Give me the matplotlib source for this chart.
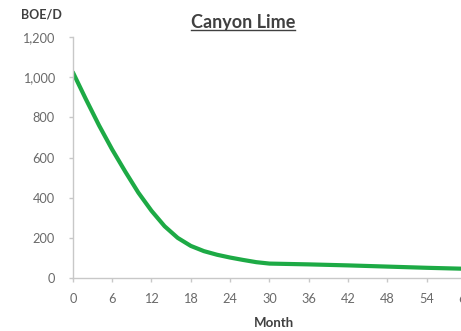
import matplotlib.pyplot as plt
from matplotlib.lines import Line2D

# production profile
months = [0, 2, 4, 6, 8, 10, 12, 14, 16, 18, 20, 22, 24, 26, 28, 30, 36, 42, 48, 54, 60]
boe_per_day = [1025, 890, 760, 640, 530, 425, 335, 258, 200, 160, 134, 116, 102, 90, 79, 72,
               68, 63, 57, 51, 46]

x_ticks = list(range(0, 61, 6))
y_ticks = list(range(0, 1201, 200))

plt.rcParams['font.family'] = ['Lato', 'DejaVu Sans']

fig = plt.figure(figsize=(4.61, 3.31), dpi=100)
ax = fig.add_axes([0.158, 0.160, 0.853, 0.728])

ax.plot(months, boe_per_day, color='#1DAA45', lw=3.0, solid_capstyle='round', solid_joinstyle='round')

ax.set_xlim(0, 60)
ax.set_ylim(0, 1200)
ax.set_xticks(x_ticks)
ax.set_yticks(y_ticks)
ax.set_yticklabels([f'{v:,}' for v in y_ticks])

for side in ['top', 'right']:
    ax.spines[side].set_visible(False)
for side in ['left', 'bottom']:
    ax.spines[side].set_color('#C8C8C8')
    ax.spines[side].set_linewidth(1.0)
ax.tick_params(colors='#C8C8C8', labelcolor='#6A6A6A', labelsize=9.2, length=3, width=1.0)
ax.tick_params(axis='x', pad=8)
ax.tick_params(axis='y', pad=10)

fig.text(0.089, 0.957, 'BOE/D', fontsize=9, fontweight='bold', color='#404040', ha='center', va='center')
fig.text(0.595, 0.025, 'Month', fontsize=9.5, fontweight='bold', color='#404040', ha='center', va='center')
title = fig.text(0.527, 0.932, 'Canyon Lime', fontsize=13, fontweight='bold', color='#404040', ha='center', va='center')

# underline the title
fig.canvas.draw()
bb = title.get_window_extent().transformed(fig.transFigure.inverted())
fig.add_artist(Line2D([bb.x0, bb.x1], [bb.y0 + 0.002, bb.y0 + 0.002], color='#404040', lw=1.0,
                      transform=fig.transFigure))

fig.savefig('out.png', dpi=100)
